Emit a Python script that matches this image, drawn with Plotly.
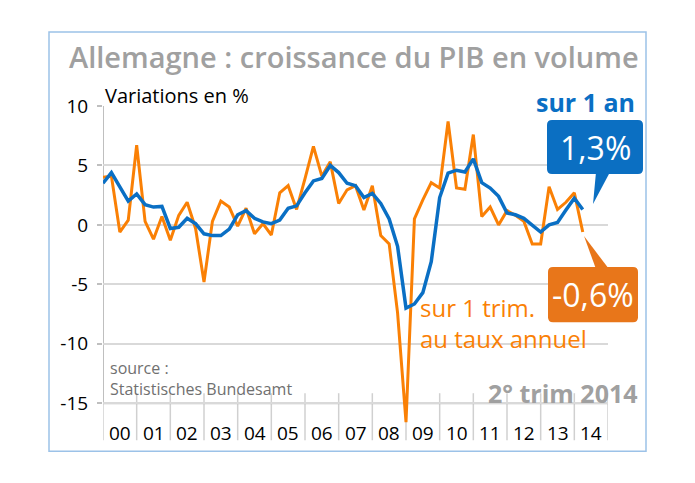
import plotly.graph_objects as go

# quarters 2000Q1 .. 2014Q2
years = ["00", "01", "02", "03", "04", "05", "06", "07", "08", "09", "10", "11", "12", "13", "14"]

# croissance sur 1 trim. au taux annuel (%)
trim_annuel = [4.0, 4.1, -0.6, 0.4, 6.7, 0.3, -1.2, 0.7, -1.3, 0.8, 1.9, -0.3,
               -4.8, 0.3, 2.0, 1.5, -0.1, 1.4, -0.75, 0.1, -0.85, 2.7, 3.3, 1.3,
               3.9, 6.6, 4.1, 5.3, 1.8, 2.95, 3.3, 1.25, 3.3, -0.9, -1.6, -7.4,
               -16.6, 0.5, 2.1, 3.55, 3.1, 8.7, 3.1, 3.0, 7.6, 0.7, 1.5, 0.0,
               1.2, 0.8, 0.3, -1.6, -1.6, 3.2, 1.3, 1.9, 2.7, -0.6]

# croissance sur 1 an (%)
sur_1_an = [3.5, 4.4, 3.2, 2.0, 2.6, 1.7, 1.5, 1.55, -0.3, -0.2, 0.55, 0.1,
            -0.75, -0.9, -0.9, -0.35, 0.85, 1.2, 0.55, 0.25, 0.1, 0.4, 1.4, 1.6,
            2.7, 3.7, 3.9, 5.0, 4.4, 3.5, 3.3, 2.3, 2.65, 1.8, 0.5, -1.8,
            -7.0, -6.65, -5.7, -3.1, 2.3, 4.35, 4.6, 4.45, 5.55, 3.55, 3.1, 2.4,
            1.0, 0.85, 0.55, 0.0, -0.6, 0.0, 0.2, 1.25, 2.25, 1.3]

y_ticks = [-15, -10, -5, 0, 5, 10]
last_an = "1,3%"
last_trim = "-0,6%"

ORANGE = "#fa8005"
BLUE = "#0a6fc4"
GRAY = "#a0a0a0"
AXIS = "#bfbfbf"
FONT = "Open Sans"

# page has an 8px body margin, so figure coords = screen px - 8
OFF = 8
W, H = 695 - OFF, 483 - OFF
YMIN, YMAX = -17, 10
# screen pixels of plot area (y=10 at 106, y=-15 at 403)
L, R, T = 103, 608, 106
B = 403 + (-15 - YMIN) * (403 - 106) / 25


def fx(px):
    return (px - L) / (R - L)


def fy(py):
    return (B - py) / (B - T)


def rounded_box(x0, y0, x1, y1, r):
    a, b, c, d = fx(x0), fy(y0), fx(x1), fy(y1)
    rx = r / (R - L)
    ry = r / (B - T)
    return (f"M {a + rx},{b} L {c - rx},{b} Q {c},{b} {c},{b - ry} "
            f"L {c},{d + ry} Q {c},{d} {c - rx},{d} L {a + rx},{d} "
            f"Q {a},{d} {a},{d + ry} L {a},{b - ry} Q {a},{b} {a + rx},{b} Z")


def tri(p1, p2, p3):
    return (f"M {fx(p1[0])},{fy(p1[1])} L {fx(p2[0])},{fy(p2[1])} "
            f"L {fx(p3[0])},{fy(p3[1])} Z")


xq = list(range(len(trim_annuel)))
nq = 4 * len(years)

fig = go.Figure()
fig.add_trace(go.Scatter(x=xq, y=trim_annuel, mode="lines",
                         line=dict(color=ORANGE, width=3), hoverinfo="skip"))
fig.add_trace(go.Scatter(x=xq, y=sur_1_an, mode="lines",
                         line=dict(color=BLUE, width=3.5), hoverinfo="skip"))

shapes = []
# outer frame
shapes.append(dict(type="rect", xref="paper", yref="paper",
                   x0=fx(49), x1=fx(646), y0=fy(32), y1=fy(451),
                   line=dict(color="#9cc2e8", width=1.5), layer="below"))
# axes lines (x axis sits at -15)
shapes.append(dict(type="line", xref="x", yref="y", x0=0, x1=nq, y0=-15, y1=-15,
                   line=dict(color=AXIS, width=2), layer="below"))
shapes.append(dict(type="line", xref="x", yref="y", x0=0, x1=0, y0=-15, y1=YMAX,
                   line=dict(color=AXIS, width=2), layer="below"))
# year separators under the axis
for k in range(len(years) + 1):
    shapes.append(dict(type="line", xref="x", yref="paper",
                       x0=4 * k, x1=4 * k, y0=fy(393), y1=fy(440),
                       line=dict(color="#d0d0d0", width=1.5), layer="below"))
# callouts
shapes.append(dict(type="path", xref="paper", yref="paper",
                   path=rounded_box(547, 120, 643, 174, 5),
                   fillcolor="#0b6fc2", line=dict(width=0)))
shapes.append(dict(type="path", xref="paper", yref="paper",
                   path=tri((596, 172), (610, 172), (593, 204)),
                   fillcolor="#0b6fc2", line=dict(width=0)))
shapes.append(dict(type="path", xref="paper", yref="paper",
                   path=rounded_box(548, 267, 638, 322, 5),
                   fillcolor="#e8761a", line=dict(width=0)))
shapes.append(dict(type="path", xref="paper", yref="paper",
                   path=tri((584, 236), (596, 269), (609, 269)),
                   fillcolor="#e8761a", line=dict(width=0)))


def ann(text, x, y, size, color, xanchor="left", weight="normal"):
    return dict(text=text, x=fx(x), y=fy(y), xref="paper", yref="paper",
                xanchor=xanchor, yanchor="middle", showarrow=False, align="left",
                font=dict(family=FONT, size=size, color=color, weight=weight))


annotations = [
    ann("Allemagne : croissance du PIB en volume", 354, 57, 29, GRAY, "center", 600),
    ann("Variations en %", 103, 96, 20, "black"),
    ann("sur 1 an", 637, 102, 25, BLUE, "right", "bold"),
    ann(last_an, 595, 147, 32, "white", "center"),
    ann(last_trim, 593, 294, 32, "white", "center"),
    ann("sur 1 trim.<br>au taux annuel", 418, 323, 24, ORANGE),
    ann("source :<br>Statistisches Bundesamt", 108, 378, 16, "#707070"),
    ann("2° trim 2014", 640, 393, 25, GRAY, "right", "bold"),
]
# year labels under the axis
for k, lab in enumerate(years):
    annotations.append(dict(text=lab, x=4 * k + 2, y=fy(433), xref="x", yref="paper",
                            xanchor="center", yanchor="middle", showarrow=False,
                            font=dict(family=FONT, size=19, color="black")))

fig.update_layout(
    width=W, height=H, autosize=False,
    margin=dict(l=L - OFF, r=W - (R - OFF), t=T - OFF, b=H - (B - OFF)),
    paper_bgcolor="white", plot_bgcolor="white",
    showlegend=False,
    font=dict(family=FONT, size=18, color="black"),
    shapes=shapes, annotations=annotations,
)
fig.update_xaxes(range=[0, nq], showticklabels=False, showgrid=False,
                 zeroline=False, showline=False, ticks="")
fig.update_yaxes(range=[YMIN, YMAX], tickvals=y_ticks,
                 ticktext=[str(v) for v in y_ticks],
                 showgrid=True, gridcolor="#d9d9d9", gridwidth=1.5, zeroline=False,
                 showline=False,
                 ticks="outside", ticklen=5, tickcolor=AXIS, tickwidth=1.5,
                 ticklabelstandoff=5, tickfont=dict(size=19))

fig.write_html("out.html")
